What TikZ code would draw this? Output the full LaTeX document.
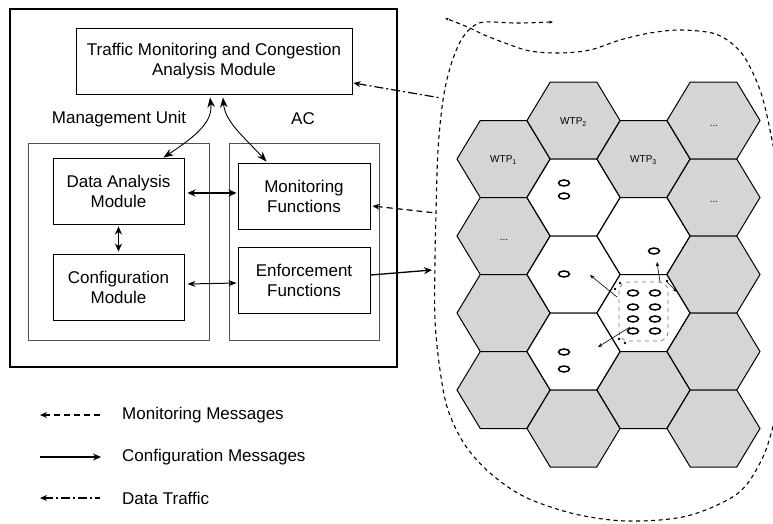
\documentclass[tikz,border=0pt]{standalone}
\usepackage{fontspec}
\setmainfont{Liberation Sans}
\usetikzlibrary{arrows.meta,calc}

\definecolor{cellgray}{RGB}{213,213,213}
\definecolor{groupline}{RGB}{80,80,80}
\definecolor{zonegray}{RGB}{120,120,120}

\begin{document}
\begin{tikzpicture}[x=1pt,y=-1pt,
  every node/.style={font=\fontsize{17}{20}\selectfont},
  module/.style={draw, line width=0.9pt, minimum width=131pt, minimum height=66pt,
                 align=center, inner sep=0pt},
  group/.style={draw=groupline, line width=0.8pt},
  legendtext/.style={anchor=west, inner sep=0pt},
  cellfont/.style={font=\fontsize{10}{12}\selectfont, inner sep=0pt},
  hexedge/.style={draw, line width=1pt, line join=miter},
  stone/.style={line width=1.5pt},
  curvedlink/.style={line width=0.9pt, arrows={Stealth[length=10pt,width=7.5pt]-Stealth[length=10pt,width=7.5pt]}},
  boldlink/.style={line width=1.8pt, arrows={Stealth[length=8pt,width=7pt]-Stealth[length=8pt,width=7pt]}},
  thinlink/.style={line width=1pt, arrows={Stealth[length=8pt,width=6pt]-Stealth[length=8pt,width=6pt]}},
  cfgmsg/.style={line width=1.3pt, arrows={-Stealth[length=8pt,width=7pt]}},
  monmsg/.style={line width=1.2pt, dash pattern=on 6pt off 4pt, arrows={Stealth[length=7pt,width=6pt]-}},
  datamsg/.style={line width=1.2pt, dash pattern=on 9pt off 3pt on 2pt off 3pt, arrows={Stealth[length=7pt,width=6pt]-}},
  zone/.style={line width=1.1pt, dash pattern=on 4pt off 3.5pt},
  smallarrow/.style={line width=0.6pt, arrows={-Stealth[length=4.5pt,width=3.5pt]}}
]
\useasboundingbox (0,0) rectangle (773,523);

% ---------------- access controller side ----------------
\node[draw, line width=1.3pt, minimum width=387pt, minimum height=358pt, inner sep=0pt] (outer) at (203.5,188) {};
\node[module, minimum width=276pt] (traffic) at (214,61) {Traffic Monitoring and Congestion\\Analysis Module};
\node (mulabel) at (119,119) {Management Unit};
\node (aclabel) at (303,119) {AC};
\node[group, minimum width=181pt, minimum height=197pt, inner sep=0pt] (mu) at (118.5,241.5) {};
\node[group, minimum width=150pt, minimum height=197pt, inner sep=0pt] (ac) at (304,241.5) {};
\node[module] (dam) at (118.5,191) {Data Analysis\\Module};
\node[module] (cfg) at (118.5,287) {Configuration\\Module};
\node[module, minimum width=132pt] (mon) at (304,196) {Monitoring\\Functions};
\node[module, minimum width=132pt] (enf) at (304,280) {Enforcement\\Functions};

% internal links
\draw[curvedlink] ($(traffic.south)+(-4,3)$) .. controls (213,122) and (196,136) .. ($(dam.north east)+(-21,0)$);
\draw[curvedlink] ($(traffic.south)+(9,3)$) .. controls (225,122) and (245,138) .. ($(mon.north west)+(29,-1)$);
\draw[boldlink] ($(dam.east)+(3,2)$) -- ($(mon.west)+(-1,-3)$);
\draw[boldlink] ($(dam.south)+(0,2)$) -- ($(cfg.north)+(0,-2)$);
\draw[thinlink] ($(cfg.east)+(3,-3)$) -- ($(enf.west)+(-1,3)$);

% links towards the wireless network
\coordinate (cfgout) at (432,270);
\coordinate (monin) at (436,213);
\coordinate (datain) at (441,98);
\draw[cfgmsg] ($(enf.east)+(0,-5)$) -- (cfgout);
\draw[monmsg] ($(mon.east)+(2,10)$) -- (monin);
\draw[datamsg] ($(traffic.east)+(1,22)$) -- (datain);

% ---------------- wireless network ----------------
\foreach \cx/\cy/\fc in {
  503.5/159/cellgray, 503.5/236/cellgray, 503.5/313/cellgray, 503.5/390/cellgray,
  573.5/120.5/cellgray, 573.5/197.5/white, 573.5/274.5/white, 573.5/351.5/white, 573.5/428.5/cellgray,
  643.5/159/cellgray, 643.5/236/white, 643.5/313/white, 643.5/390/cellgray,
  713.5/120.5/cellgray, 713.5/197.5/cellgray, 713.5/274.5/cellgray, 713.5/351.5/cellgray, 713.5/428.5/cellgray}
{
  \draw[hexedge, fill=\fc] (\cx-46.5,\cy) -- ++(23.25,-38.5) -- ++(46.5,0)
        -- ++(23.25,38.5) -- ++(-23.25,38.5) -- ++(-46.5,0) -- cycle;
}

\node[cellfont] (wtp1) at (503.5,160) {WTP\textsubscript{1}};
\node[cellfont] (wtp2) at (573.5,122) {WTP\textsubscript{2}};
\node[cellfont] (wtp3) at (643.5,160) {WTP\textsubscript{3}};
\node[cellfont] (more1) at (714,126) {...};
\node[cellfont] (more2) at (714,202) {...};
\node[cellfont] (more3) at (504,240) {...};

% stations
\foreach \sx/\sy in {564/183, 564/196, 654/251, 564/274, 564/352, 564/369,
                     633/293, 655/293, 633/307, 655/307, 633/319, 655/319, 633/331, 655/331}
  \draw[stone] (\sx,\sy) ellipse [x radius=5.5, y radius=3];

% congested area
\draw[zonegray, line width=0.7pt, dash pattern=on 4pt off 4pt, rounded corners=9pt]
  (619,282) rectangle (668,341);
\foreach \dx/\dy in {620/283, 667/281, 619/339, 625/343, 615/289}
  \fill (\dx,\dy) circle (1.3);
\draw[smallarrow] (617,297) -- (590,275);
\draw[smallarrow] (630,327) -- (598,347);
\draw[smallarrow] (660,282) -- (657,262);
\draw[smallarrow] (667,282) -- (677,292);

% network boundary
\draw[zone, arrows={Stealth[length=4pt,width=3pt]-Stealth[length=4pt,width=3pt]}]
  plot[smooth, tension=0.55] coordinates {
  (553,22) (515,23) (484,22) (471,28) (460,42) (450,68) (443,100) (438,150)
  (436,213) (435,260) (435,320) (440,370) (448,410) (465,445) (490,473)
  (525,497) (575,514) (628,521) (687,516) (737,494) (760,463) (772,430)
  (782,380) (789,290) (782,200) (770,130) (760,90) (745,58) (730,42)
  (712,33) (680,30) (650,33) (620,40) (590,50) (560,53) (530,51)
  (505,43) (482,34) (470,28) (445,18)};

% ---------------- legend ----------------
\coordinate (lm1) at (40,415);  \coordinate (lm2) at (100,415);
\coordinate (lc1) at (40,457);  \coordinate (lc2) at (101,457);
\coordinate (ld1) at (40,498);  \coordinate (ld2) at (100,498);
\draw[monmsg] (lm1) -- (lm2);
\draw[cfgmsg] (lc1) -- (lc2);
\draw[datamsg] (ld1) -- (ld2);
\node[legendtext] (legmon) at (122,415) {Monitoring Messages};
\node[legendtext] (legcfg) at (122,457) {Configuration Messages};
\node[legendtext] (legdata) at (122,498) {Data Traffic};
\end{tikzpicture}
\end{document}
